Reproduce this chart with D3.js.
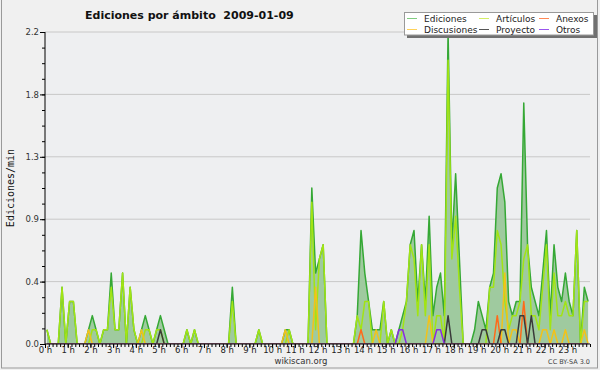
<!DOCTYPE html>
<html>
<head>
<meta charset="utf-8">
<script src="https://cdn.jsdelivr.net/npm/d3@7"></script>
<style>
  body { margin: 0; background: #f0f0f0; }
  svg { display: block; font-family: "DejaVu Sans", sans-serif; }
</style>
</head>
<body>
<div id="container"></div>
<script>
// hour labels and y ticks
const hourLabels = ["0 h","1 h","2 h","3 h","4 h","5 h","6 h","7 h","8 h","9 h","10 h","11 h",
  "12 h","13 h","14 h","15 h","16 h","17 h","18 h","19 h","20 h","21 h","22 h","23 h"];
const yTicks = [0, 0.44, 0.88, 1.32, 1.76, 2.2];

// edits per minute, one value per 10 minutes (6 per hour)
const ediciones = [
  0.1,0,0,0,0.4,0,      0.3,0.3,0,0,0,0.1,      0.2,0.1,0,0.1,0.1,0.5,  0.1,0.1,0.5,0,0.4,0.1,
  0,0.1,0.2,0.1,0,0.1,  0.2,0.1,0,0,0,0,        0,0.1,0,0.1,0,0,        0,0,0,0,0,0,
  0,0.4,0,0,0,0,        0,0,0.1,0,0,0,          0,0,0,0.1,0.1,0,        0,0,0,0,1.1,0.5,
  0.6,0.7,0,0,0,0,      0,0,0,0,0.2,0.8,        0.5,0.3,0.1,0.1,0.1,0.3, 0,0.1,0,0.1,0.2,0.3,
  0.7,0.8,0.3,0.7,0.3,0.9, 0.2,0.4,0.5,0.2,2.2,0.7, 1.2,0.6,0,0,0,0.1, 0.3,0.2,0.1,0.4,0.5,1.1,
  1.2,1.0,0.3,0.2,0.3,0.3, 1.7,0.7,0.4,0.3,0.2,0.5, 0.8,0.2,0.7,0.4,0.3,0.5, 0.3,0.2,0.8,0,0.4,0.3
];
const articulos = [
  0.1,0,0,0,0.4,0,      0.3,0.3,0,0,0,0,        0.1,0.1,0,0.1,0.1,0.4,  0.1,0.1,0.5,0,0.4,0.1,
  0,0,0.1,0.1,0,0.1,    0.1,0,0,0,0,0,          0,0.1,0,0.1,0,0,        0,0,0,0,0,0,
  0,0.3,0,0,0,0,        0,0,0.1,0,0,0,          0,0,0,0,0.1,0,          0,0,0,0,1.0,0.1,
  0.6,0.7,0,0,0,0,      0,0,0,0,0.2,0.1,        0.3,0.3,0,0,0,0.3,      0,0.1,0,0,0.1,0.3,
  0.7,0.6,0.2,0.7,0.2,0.7, 0,0.2,0.2,0,2.0,0.6, 0.9,0.4,0,0,0,0,     0,0,0,0.4,0.4,0.8,
  0.7,0.3,0.1,0.2,0.2,0.3, 0.6,0.7,0.2,0.2,0.1,0.4, 0.7,0.1,0.5,0.2,0.2,0.3, 0.2,0.2,0.8,0,0.3,0.3
];
const discusiones = [
  0,0,0,0,0,0,  0,0,0,0,0,0.1,  0,0,0,0,0,0,  0,0,0,0,0,0,
  0,0.1,0,0,0,0, 0,0,0,0,0,0,   0,0,0,0,0,0,  0,0,0,0,0,0,
  0,0,0,0,0,0,  0,0,0,0,0,0,    0,0,0,0.1,0,0, 0,0,0,0,0,0.4,
  0,0,0,0,0,0,  0,0,0,0,0,0,    0,0,0,0.1,0,0, 0,0,0,0,0,0,
  0,0,0,0,0,0.2, 0,0,0,0,0,0,   0,0,0,0,0,0,  0,0,0,0,0,0,
  0,0.5,0,0.1,0.1,0, 0,0,0,0,0,0.1, 0.1,0,0.1,0,0,0.1, 0,0,0,0,0.1,0
];
const anexos = [
  0,0,0,0,0,0,  0,0,0,0,0,0,  0,0,0,0,0,0,  0,0,0,0,0,0,
  0,0,0,0,0,0,  0,0,0,0,0,0,  0,0,0,0,0,0,  0,0,0,0,0,0,
  0,0,0,0,0,0,  0,0,0,0,0,0,  0,0,0,0,0,0,  0,0,0,0,0,0,
  0,0,0,0,0,0,  0,0,0,0,0,0.1, 0,0,0,0,0,0, 0,0,0,0,0,0,
  0,0,0,0,0,0,  0,0,0,0,0,0,  0,0,0,0,0,0,  0,0,0,0,0,0.2,
  0,0,0,0,0,0,  0.3,0,0,0,0,0, 0,0,0,0,0,0, 0,0,0,0,0,0
];
const proyecto = [
  0,0,0,0,0,0,  0,0,0,0,0,0,  0,0,0,0,0,0,  0,0,0,0,0,0,
  0,0,0,0,0,0,  0.1,0,0,0,0,0, 0,0,0,0,0,0, 0,0,0,0,0,0,
  0,0,0,0,0,0,  0,0,0,0,0,0,  0,0,0,0,0,0,  0,0,0,0,0,0,
  0,0,0,0,0,0,  0,0,0,0,0,0,  0,0,0,0,0,0,  0,0,0,0,0,0,
  0,0,0,0,0,0,  0,0,0,0,0.2,0, 0,0,0,0,0,0, 0,0.1,0.1,0,0,0,
  0.1,0.1,0,0,0,0.2, 0.2,0,0.2,0,0,0, 0,0,0,0,0,0, 0,0,0,0,0,0
];
const otros = [
  0,0,0,0,0,0,  0,0,0,0,0,0,  0,0,0,0,0,0,  0,0,0,0,0,0,
  0,0,0,0,0,0,  0,0,0,0,0,0,  0,0,0,0,0,0,  0,0,0,0,0,0,
  0,0,0,0,0,0,  0,0,0,0,0,0,  0,0,0,0,0,0,  0,0,0,0,0,0,
  0,0,0,0,0,0,  0,0,0,0,0,0,  0,0,0,0,0,0,  0,0,0,0.1,0.1,0,
  0,0,0,0,0,0,  0,0.1,0.1,0,0,0, 0,0,0,0,0,0, 0,0,0,0,0,0,
  0,0,0,0,0,0,  0,0,0,0,0,0,  0,0,0,0,0,0,  0,0,0,0,0,0
];

const seriesNames = ["Ediciones", "Artículos", "Anexos", "Discusiones", "Proyecto", "Otros"];

let width = 600, height = 370;
let mLeft = 45, mRight = 590, mTop = 32, mBottom = 344;

let svg = d3.select("#container")
  .append("svg")
  .attr("width", width)
  .attr("height", height);

svg.append("rect")
  .attr("x", 1.5).attr("y", -2)
  .attr("width", 596).attr("height", 370)
  .attr("fill", "#f0f0f0")
  .attr("stroke", "#9a9a9a");

svg.append("rect")
  .attr("x", mLeft).attr("y", mTop)
  .attr("width", mRight - mLeft).attr("height", mBottom - mTop)
  .attr("fill", "#eeeff1");

let x = d3.scaleLinear().domain([0, 24]).range([mLeft, mRight]);
let y = d3.scaleLinear().domain([0, 2.2]).range([mBottom, mTop]);

// gridlines
svg.append("g")
  .selectAll("line")
  .data(yTicks.slice(1))
  .enter().append("line")
    .attr("x1", mLeft).attr("x2", mRight)
    .attr("y1", d => y(d)).attr("y2", d => y(d))
    .attr("stroke", "#c8c8c8");

svg.append("defs").append("clipPath").attr("id", "plotclip")
  .append("rect")
  .attr("x", mLeft).attr("y", 0)
  .attr("width", mRight - mLeft + 2).attr("height", mBottom - 0.6);

let plot = svg.append("g").attr("clip-path", "url(#plotclip)");

let tx = (d, i) => x((i + 0.5) / 6);

plot.append("path")
  .datum(ediciones)
  .attr("fill", "#9fca9f")
  .attr("d", d3.area().x(tx).y0(y(0)).y1(d => y(d)));

let lines = [
  [ediciones, "#35a835"],
  [articulos, "#a2e414"],
  [discusiones, "#f2c21a"],
  [anexos, "#ff6a1a"],
  [proyecto, "#3a3a3a"],
  [otros, "#8a2be2"]
];

lines.forEach(function(s) {
  plot.append("path")
    .datum(s[0])
    .attr("fill", "none")
    .attr("stroke", s[1])
    .attr("stroke-width", 1.5)
    .attr("stroke-linejoin", "round")
    .attr("d", d3.line().x(tx).y(d => y(d)));
});

// y axis
let yMinor = d3.range(0, 21).map(k => k * 0.11);
svg.append("g")
  .attr("transform", "translate(" + mLeft + ",0)")
  .call(d3.axisLeft(y).tickValues(yMinor).tickSize(3).tickFormat(""))
  .call(g => g.select(".domain").remove());

svg.append("g")
  .attr("transform", "translate(" + mLeft + ",0)")
  .call(d3.axisLeft(y).tickValues(yTicks).tickSize(5).tickFormat(d3.format(".1f")))
  .call(g => g.selectAll("text").attr("font-size", 8.5).attr("fill", "#333")
    .attr("font-family", "DejaVu Sans").attr("x", -6))
  .call(g => g.select(".domain").attr("d", "M0," + mTop + "V" + mBottom));

// x axis
let xMinor = d3.range(0, 145).map(k => k / 6);
svg.append("g")
  .attr("transform", "translate(0," + mBottom + ")")
  .call(d3.axisBottom(x).tickValues(xMinor).tickSize(3).tickFormat(""))
  .call(g => g.select(".domain").attr("d", "M" + mLeft + ",0H" + mRight));

svg.append("g")
  .attr("transform", "translate(0," + mBottom + ")")
  .call(d3.axisBottom(x).tickValues(d3.range(24)).tickSize(4)
    .tickFormat((d, i) => hourLabels[i]))
  .call(g => g.selectAll("text").attr("font-size", 8.5).attr("fill", "#222")
    .attr("font-family", "DejaVu Sans").attr("y", 3))
  .call(g => g.select(".domain").remove());

// titles
svg.append("text")
  .attr("x", 85).attr("y", 19)
  .attr("font-size", 11).attr("font-weight", "bold")
  .attr("fill", "#111")
  .attr("xml:space", "preserve")
  .text("Ediciones por ámbito  2009-01-09");

svg.append("text")
  .attr("transform", "translate(14,188) rotate(-90)")
  .attr("text-anchor", "middle")
  .attr("font-family", "DejaVu Sans Mono")
  .attr("font-size", 10)
  .attr("fill", "#111")
  .text("Ediciones/min");

svg.append("text")
  .attr("x", 301).attr("y", 364)
  .attr("text-anchor", "middle")
  .attr("font-size", 8.5).attr("fill", "#333")
  .text("wikiscan.org");

svg.append("text")
  .attr("x", 590).attr("y", 364)
  .attr("text-anchor", "end")
  .attr("font-size", 6.5).attr("fill", "#444")
  .text("CC BY-SA 3.0");

// legend
let legend = svg.append("g");
legend.append("rect")
  .attr("x", 407).attr("y", 15)
  .attr("width", 190).attr("height", 23)
  .attr("fill", "#707070");
legend.append("rect")
  .attr("x", 404.5).attr("y", 12.5)
  .attr("width", 189).attr("height", 22.5)
  .attr("fill", "#fff")
  .attr("stroke", "#999");

let legendColors = ["#80cc80", "#d4ee66", "#ff8855", "#ffd25a", "#555555", "#9955ee"];
let legendCols = [407, 479, 539];
seriesNames.forEach(function(name, i) {
  let cx = legendCols[i % 3], cy = i < 3 ? 18.5 : 29.5;
  legend.append("line")
    .attr("x1", cx).attr("x2", cx + 10)
    .attr("y1", cy).attr("y2", cy)
    .attr("stroke", legendColors[i]);
  legend.append("text")
    .attr("x", cx + 17).attr("y", cy + 3.5)
    .attr("font-size", 9).attr("fill", "#222")
    .text(name);
});
</script>
</body>
</html>
